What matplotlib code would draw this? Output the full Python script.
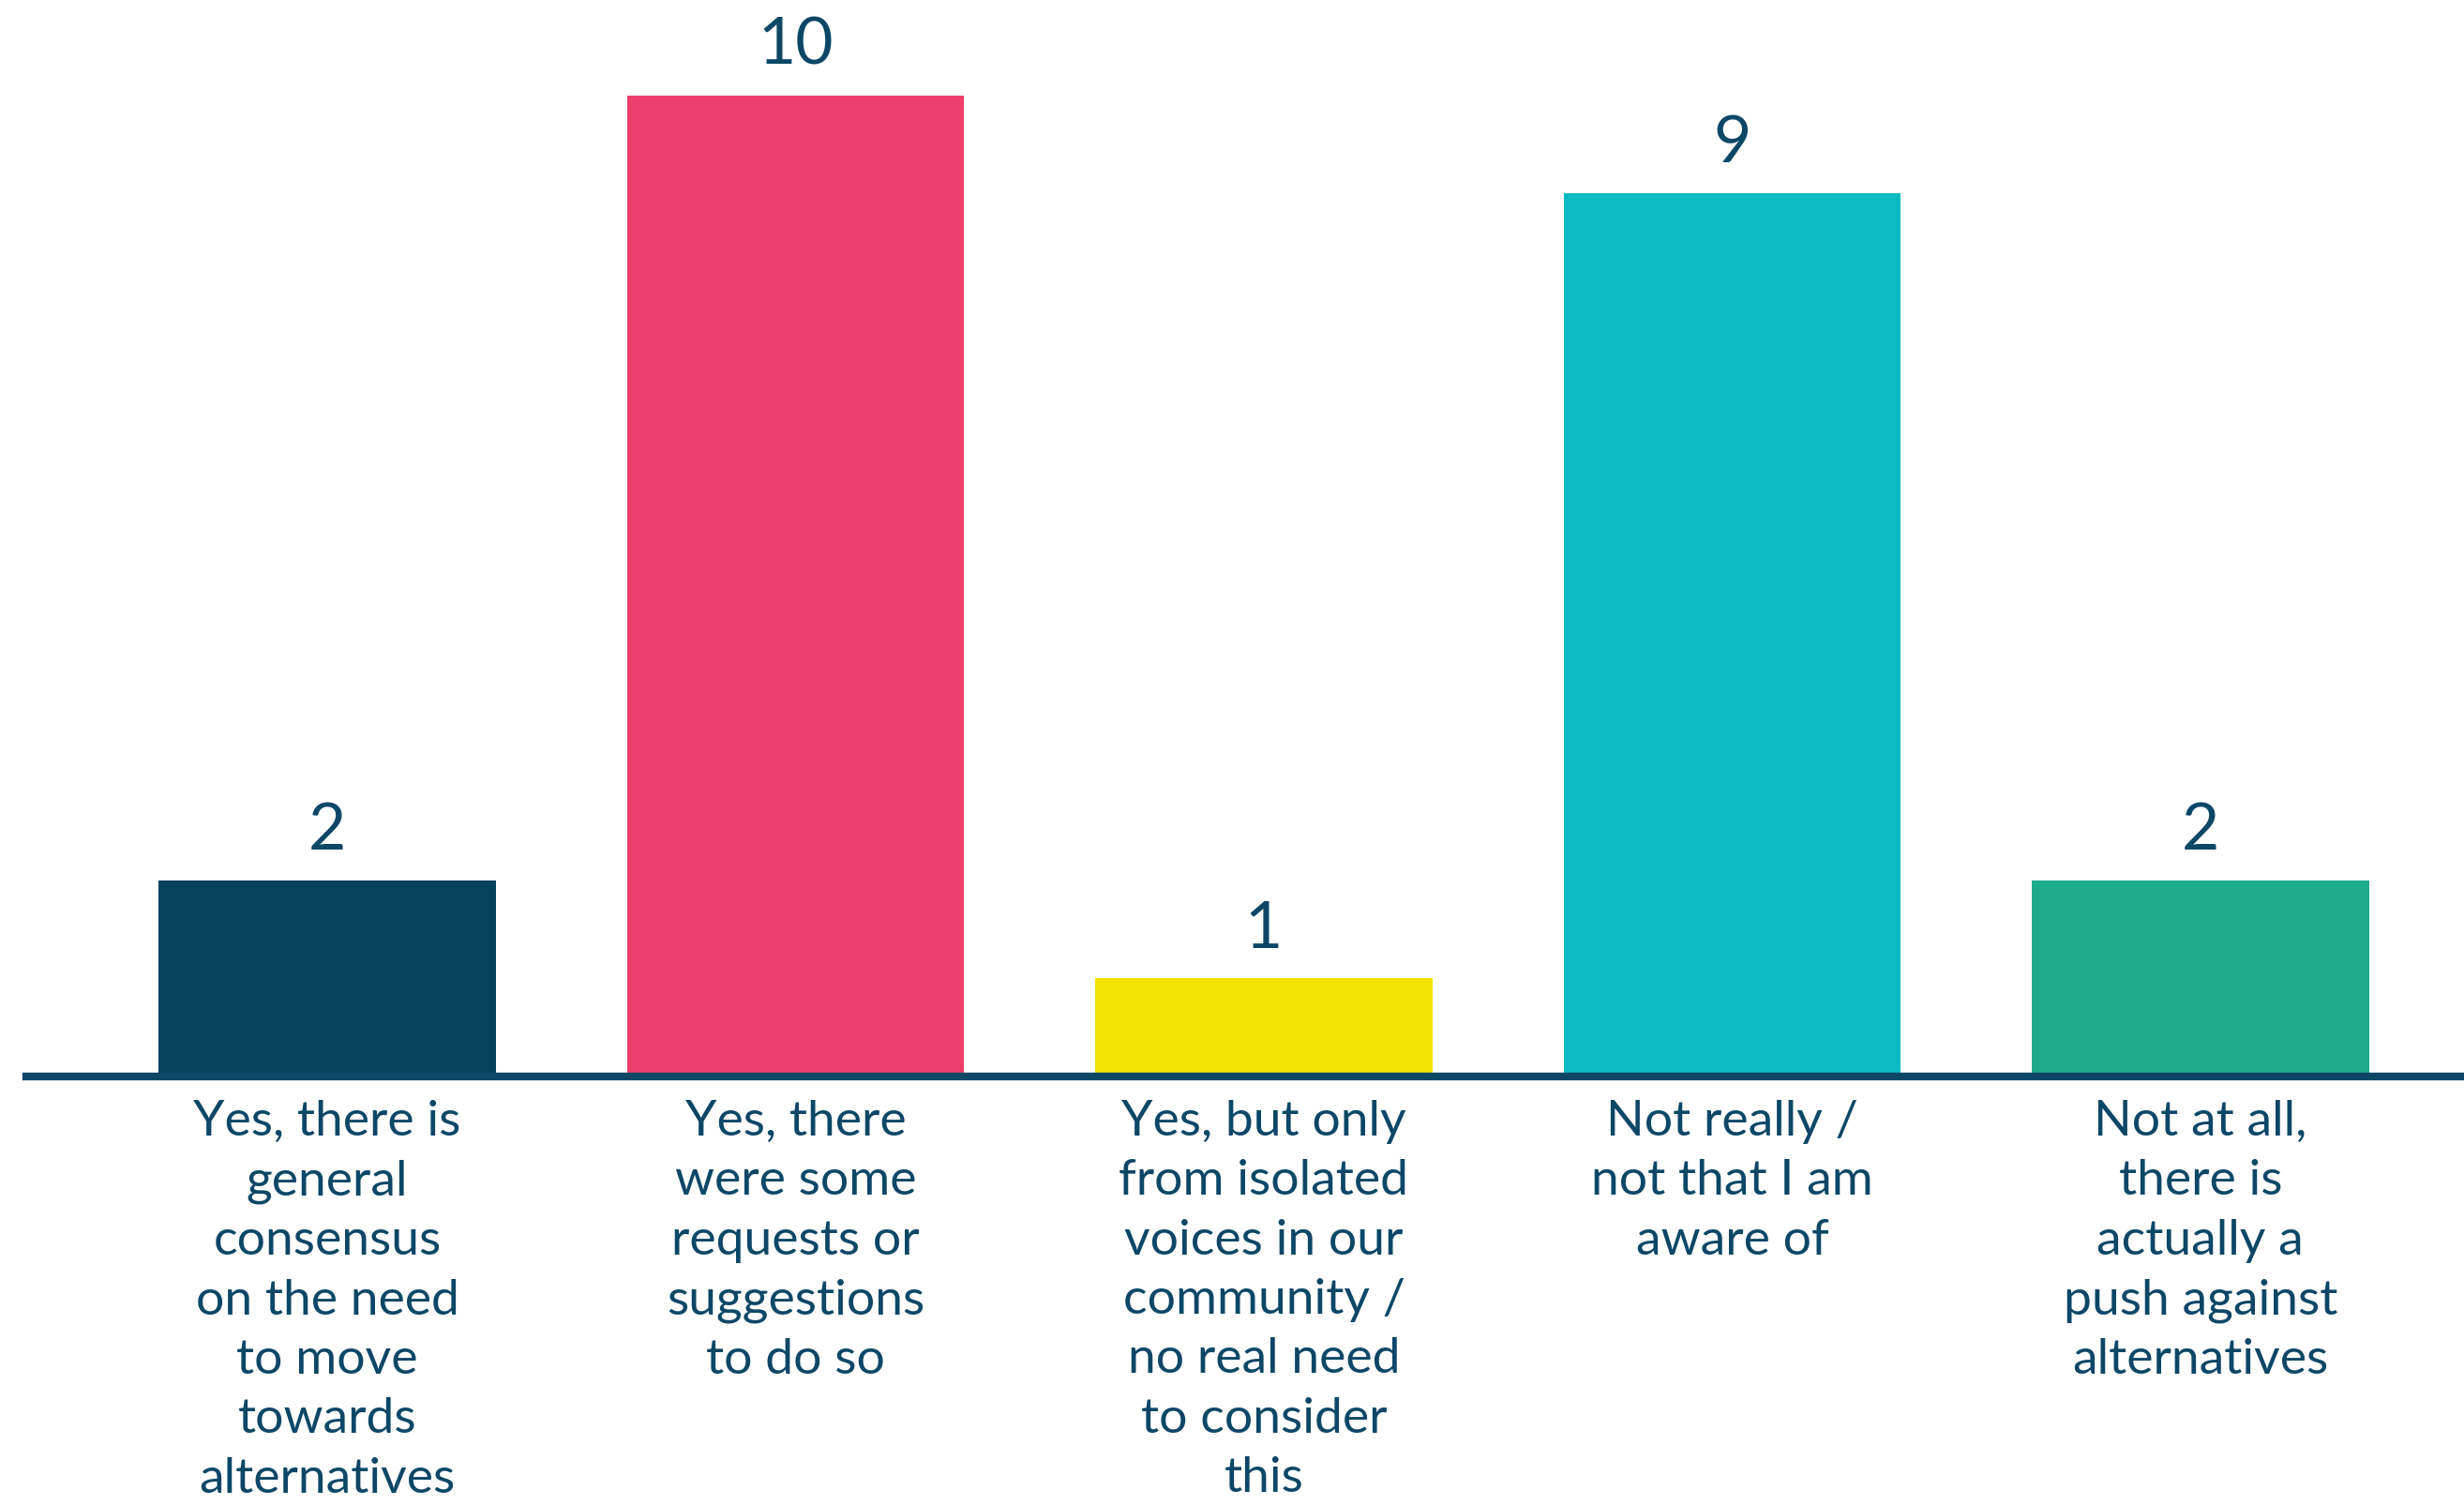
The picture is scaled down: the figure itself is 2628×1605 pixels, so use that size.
import matplotlib.pyplot as plt

# survey answers and counts
categories = [
    "Yes, there is\ngeneral\nconsensus\non the need\nto move\ntowards\nalternatives",
    "Yes, there\nwere some\nrequests or\nsuggestions\nto do so",
    "Yes, but only\nfrom isolated\nvoices in our\ncommunity /\nno real need\nto consider\nthis",
    "Not really /\nnot that I am\naware of",
    "Not at all,\nthere is\nactually a\npush against\nalternatives",
]
counts = [2, 10, 1, 9, 2]
colors = ["#05425f", "#ec3f6b", "#f2e300", "#0bbbc3", "#1eab88"]

navy = "#0d4766"
plt.rcParams['font.family'] = ['Lato', 'DejaVu Sans']

fig = plt.figure(figsize=(26.28, 16.05), dpi=100)
ax = fig.add_axes([0, 0.2847, 1, 0.7153])

x = list(range(len(counts)))
bars = ax.bar(x, counts, width=0.72, color=colors, zorder=2)

for b, v in zip(bars, counts):
    ax.annotate(str(v), (b.get_x() + b.get_width() / 2, v),
                xytext=(0, 15), textcoords='offset points',
                ha='center', va='bottom', fontsize=50, color=navy)

ax.set_xlim(-0.699, 4.563)
ax.set_ylim(0, 10.97)

for s in ['top', 'left', 'right']:
    ax.spines[s].set_visible(False)
ax.spines['bottom'].set_linewidth(6)
ax.spines['bottom'].set_color(navy)
ax.spines['bottom'].set_bounds(-0.643, 4.563)
ax.spines['bottom'].set_zorder(3)

ax.set_yticks([])
ax.set_xticks(x)
ax.set_xticklabels(categories, fontsize=38.5, color=navy, linespacing=1.43)
ax.tick_params(axis='x', length=0, pad=18)

fig.savefig("out.png", dpi=100, facecolor="white")
